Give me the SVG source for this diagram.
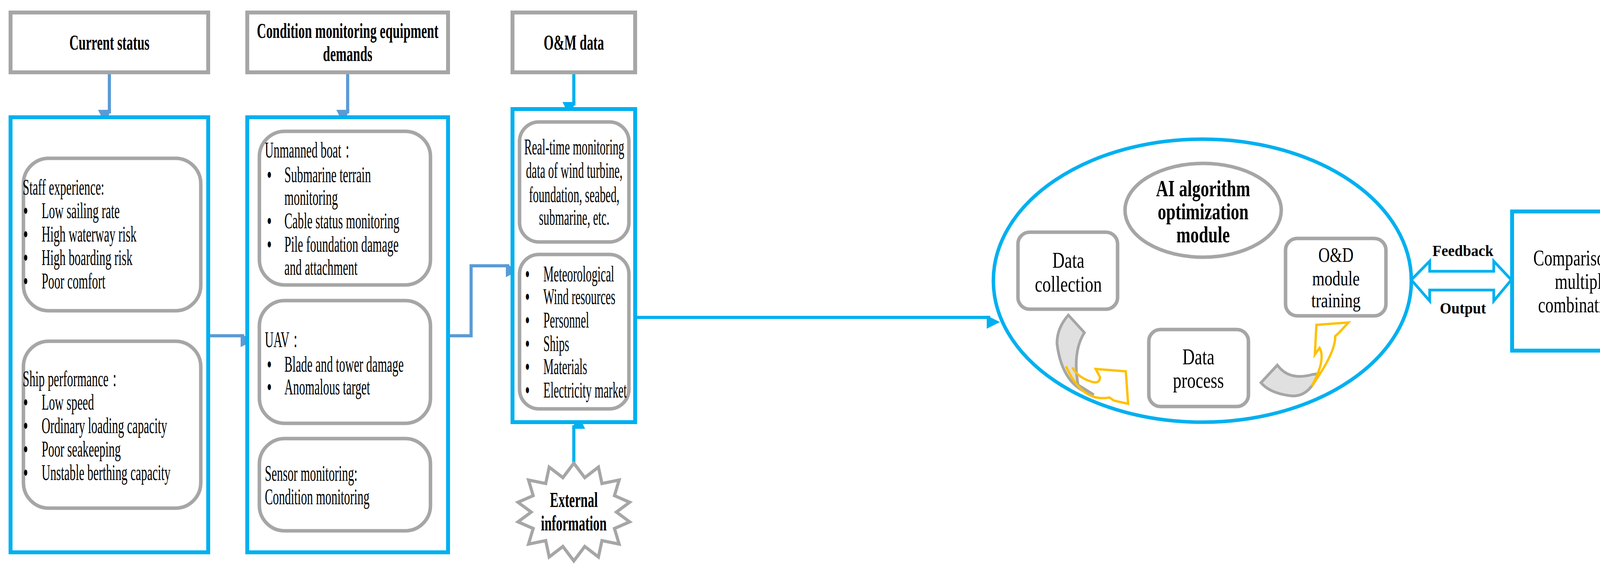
<svg xmlns="http://www.w3.org/2000/svg" width="4243" height="1448" viewBox="0 0 4243 1448">
<defs>
<marker id="ah" markerWidth="10" markerHeight="10" refX="9" refY="5" orient="auto" markerUnits="userSpaceOnUse" viewBox="0 0 10 10" style="overflow:visible"><path d="M0,0 L10,5 L0,10 z" fill="#5b9bd5" transform="scale(3.4)" /></marker>
<marker id="ah2" markerWidth="10" markerHeight="10" refX="9" refY="5" orient="auto" markerUnits="userSpaceOnUse" viewBox="0 0 10 10" style="overflow:visible"><path d="M0,0 L10,5 L0,10 z" fill="#00b0f0" transform="scale(3.4)" /></marker>
</defs>
<style>
.hdr{fill:#fff;stroke:#a6a6a6;stroke-width:10}
.blue{fill:#fff;stroke:#00b0f0;stroke-width:10}
.rr{fill:#fff;stroke:#a6a6a6;stroke-width:9}
text{font-family:"Liberation Serif",serif;font-size:56px;fill:#000}
.b{font-weight:bold;font-size:54px}
.r{font-size:58px}
.rb{font-weight:bold;font-size:60px}
.c{text-anchor:middle}
.d{font-weight:bold}
.con{fill:none;stroke-width:8}
</style>
<rect width="4243" height="1448" fill="#fff"/>
<g id="connectors">
<path class="con" stroke="#5b9bd5" d="M280,187 V290" marker-end="url(#ah)"/>
<path class="con" stroke="#5b9bd5" d="M890,187 V290" marker-end="url(#ah)"/>
<path class="con" stroke="#00b0f0" d="M1469,187 V270" marker-end="url(#ah2)"/>
<path class="con" stroke="#5b9bd5" d="M534,859 H625" marker-end="url(#ah)"/>
<path class="con" stroke="#5b9bd5" d="M1147,859 H1206 V680 H1304" marker-end="url(#ah)"/>
<path class="con" stroke="#00b0f0" d="M1469,1185 V1088" marker-end="url(#ah2)"/>
<path class="con" stroke="#00b0f0" d="M1626,812 H2535" marker-end="url(#ah2)"/>
<path d="M3613,716 L3660,668 V694 H3824 V668 L3869,716 L3824,770 V742 H3660 V770 Z" fill="#fff" stroke="#00b0f0" stroke-width="7"/>
<g transform="matrix(0.95,0,0,1,3745,0)"><text x="0" y="655" class="c d" style="font-size:40px">Feedback</text><text x="0" y="802" class="c d" style="font-size:40px">Output</text></g>
</g>
<g id="current-status"><rect class="hdr" x="27" y="32" width="506" height="153"/><g transform="matrix(0.61,0,0,1,280,0)"><text x="0" y="127" class="b c">Current status</text></g></g>
<g id="cm-demands"><rect class="hdr" x="633" y="32" width="514" height="153"/><g transform="matrix(0.61,0,0,1,890,0)"><text x="0" y="97" class="b c">Condition monitoring equipment</text><text x="0" y="156" class="b c">demands</text></g></g>
<g id="om-data"><rect class="hdr" x="1312" y="32" width="314" height="153"/><g transform="matrix(0.61,0,0,1,1469,0)"><text x="0" y="127" class="b c">O&amp;M data</text></g></g>
<g id="left-panel"><rect class="blue" x="27" y="300" width="506" height="1113"/></g>
<g id="staff"><rect class="rr" x="60" y="405" width="454" height="390" rx="65"/>
<g transform="matrix(0.55,0,0,1,58,0)">
<text x="0" y="498">Staff experience:</text>
<text x="4" y="558" class="d">•</text><text x="88" y="558">Low sailing rate</text>
<text x="4" y="618" class="d">•</text><text x="88" y="618">High waterway risk</text>
<text x="4" y="678" class="d">•</text><text x="88" y="678">High boarding risk</text>
<text x="4" y="738" class="d">•</text><text x="88" y="738">Poor comfort</text></g></g>
<g id="ship"><rect class="rr" x="60" y="873" width="454" height="427" rx="65"/>
<g transform="matrix(0.55,0,0,1,58,0)">
<text x="0" y="988">Ship performance：</text>
<text x="4" y="1048" class="d">•</text><text x="88" y="1048">Low speed</text>
<text x="4" y="1108" class="d">•</text><text x="88" y="1108">Ordinary loading capacity</text>
<text x="4" y="1168" class="d">•</text><text x="88" y="1168">Poor seakeeping</text>
<text x="4" y="1228" class="d">•</text><text x="88" y="1228">Unstable berthing capacity</text></g></g>
<g id="mid-panel"><rect class="blue" x="633" y="300" width="514" height="1113"/></g>
<g id="unmanned"><rect class="rr" x="664" y="336" width="438" height="393" rx="65"/>
<g transform="matrix(0.55,0,0,1,678,0)">
<text x="0" y="403">Unmanned boat：</text>
<text x="11" y="466" class="d">•</text><text x="91" y="466">Submarine terrain</text>
<text x="91" y="524">monitoring</text>
<text x="11" y="584" class="d">•</text><text x="91" y="584">Cable status monitoring</text>
<text x="11" y="644" class="d">•</text><text x="91" y="644">Pile foundation damage</text>
<text x="91" y="703">and attachment</text></g></g>
<g id="uav"><rect class="rr" x="664" y="769" width="438" height="314" rx="65"/>
<g transform="matrix(0.55,0,0,1,678,0)">
<text x="0" y="888">UAV：</text>
<text x="11" y="951" class="d">•</text><text x="91" y="951">Blade and tower damage</text>
<text x="11" y="1009" class="d">•</text><text x="91" y="1009">Anomalous target</text></g></g>
<g id="sensor"><rect class="rr" x="664" y="1122" width="438" height="236" rx="65"/>
<g transform="matrix(0.55,0,0,1,678,0)">
<text x="0" y="1230">Sensor monitoring:</text>
<text x="0" y="1290">Condition monitoring</text></g></g>
<g id="om-panel"><rect class="blue" x="1312" y="279" width="314" height="801"/></g>
<g id="realtime"><rect class="rr" x="1330" y="312" width="280" height="307" rx="50"/>
<g transform="matrix(0.53,0,0,1,1470,0)">
<text x="0" y="395" class="c">Real-time monitoring</text>
<text x="0" y="455" class="c">data of wind turbine,</text>
<text x="0" y="517" class="c">foundation, seabed,</text>
<text x="0" y="575" class="c">submarine, etc.</text></g></g>
<g id="factors"><rect class="rr" x="1330" y="651" width="280" height="395" rx="50"/>
<g transform="matrix(0.53,0,0,1,1345,0)">
<text x="0" y="720" class="d">•</text><text x="87" y="720">Meteorological</text>
<text x="0" y="778" class="d">•</text><text x="87" y="778">Wind resources</text>
<text x="0" y="838" class="d">•</text><text x="87" y="838">Personnel</text>
<text x="0" y="898" class="d">•</text><text x="87" y="898">Ships</text>
<text x="0" y="957" class="d">•</text><text x="87" y="957">Materials</text>
<text x="0" y="1017" class="d">•</text><text x="87" y="1017">Electricity market</text></g></g>
<g id="external">
<polygon fill="#fff" stroke="#a6a6a6" stroke-width="8" points="1469,1185 1497,1222 1532,1195 1541,1237 1585,1228 1573,1268 1612,1285 1578,1310 1612,1335 1573,1352 1585,1392 1541,1383 1532,1425 1497,1398 1469,1435 1441,1398 1406,1425 1397,1383 1353,1392 1365,1352 1326,1335 1360,1310 1326,1285 1365,1268 1353,1228 1397,1237 1406,1195 1441,1222"/>
<g transform="matrix(0.61,0,0,1,1469,0)"><text x="0" y="1297" class="b c">External</text><text x="0" y="1357" class="b c">information</text></g></g>
<g id="ai-module"><ellipse cx="3078" cy="718" rx="535" ry="362" fill="#fff" stroke="#00b0f0" stroke-width="9"/></g>
<g id="ai-title"><ellipse cx="3080" cy="538" rx="200" ry="120" fill="#fff" stroke="#a6a6a6" stroke-width="9"/>
<g transform="matrix(0.72,0,0,1,3080,0)"><text x="0" y="502" class="rb c">AI algorithm</text><text x="0" y="561" class="rb c">optimization</text><text x="0" y="620" class="rb c">module</text></g></g>
<g id="data-collection"><rect class="rr" x="2606" y="594" width="255" height="197" rx="30"/>
<g transform="matrix(0.75,0,0,1,2735,0)"><text x="0" y="685" class="r c">Data</text><text x="0" y="746" class="r c">collection</text></g></g>
<g id="od-training"><rect class="rr" x="3291" y="610" width="257" height="198" rx="30"/>
<g transform="matrix(0.78,0,0,1,3420,0)"><text x="0" y="670" class="c" style="font-size:52px">O&amp;D</text><text x="0" y="730" class="c" style="font-size:52px">module</text><text x="0" y="786" class="c" style="font-size:52px">training</text></g></g>
<g id="data-process"><rect class="rr" x="2941" y="843" width="255" height="197" rx="30"/>
<g transform="matrix(0.75,0,0,1,3068,0)"><text x="0" y="932" class="r c">Data</text><text x="0" y="992" class="r c">process</text></g></g>
<g id="cycle-arrows">
<path d="M2735,806 L2776,851 Q2745,900 2760,985 L2800,1010 Q2720,990 2706,880 Q2705,840 2735,806 Z" fill="#e0e0e0" stroke="#a6a6a6" stroke-width="7"/>
<path d="M2729,937 Q2770,1030 2840,1017 L2852,1025 L2888,1033 L2882,950 L2805,944 L2816,965 Q2815,985 2790,975 Q2760,965 2745,940" fill="none" stroke="#ffc000" stroke-width="6"/>
<path d="M3270,934 Q3300,975 3360,958 L3375,956 Q3350,1020 3300,1012 Q3250,1005 3228,979 Z" fill="#e0e0e0" stroke="#a6a6a6" stroke-width="7"/>
<path d="M3358,988 Q3420,900 3418,860 L3428,851 L3452,825 L3370,831 L3366,907 L3378,890 Q3395,920 3358,988" fill="none" stroke="#ffc000" stroke-width="6"/>
</g>
<g id="comparison"><rect class="blue" x="3871" y="541" width="357" height="356"/>
<g transform="matrix(0.72,0,0,1,4050,0)"><text x="0" y="679" class="r c">Comparison of</text><text x="0" y="739" class="r c">multiple</text><text x="0" y="799" class="r c">combinations</text></g></g>
</svg>
